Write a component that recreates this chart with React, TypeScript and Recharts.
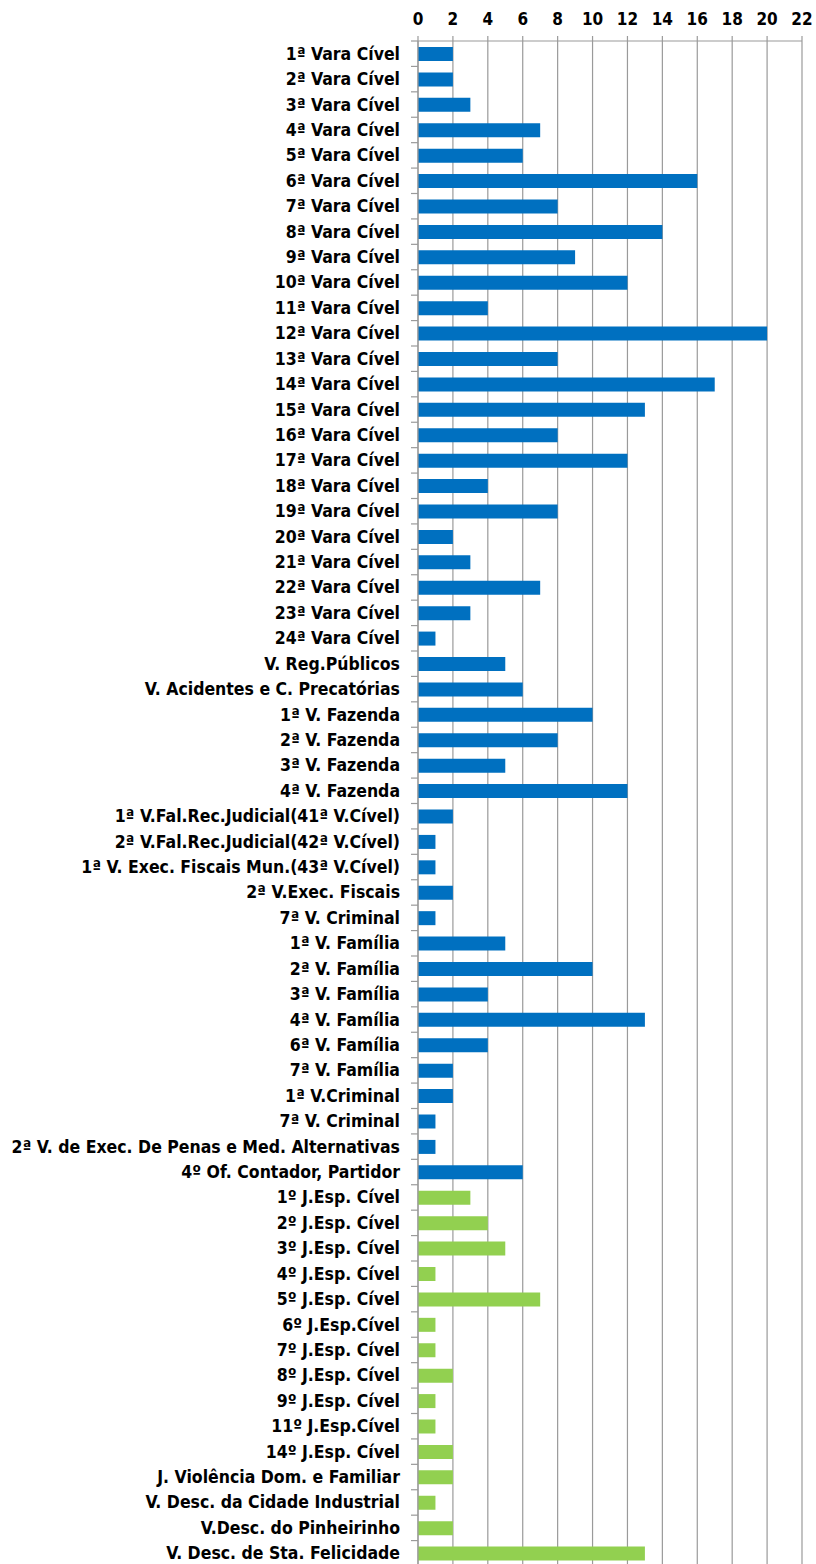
import { Bar, BarChart, CartesianGrid, Cell, XAxis, YAxis } from "recharts";

// Varas (blue group)
const varaNames = [
  "1ª Vara Cível", "2ª Vara Cível", "3ª Vara Cível", "4ª Vara Cível", "5ª Vara Cível",
  "6ª Vara Cível", "7ª Vara Cível", "8ª Vara Cível", "9ª Vara Cível", "10ª Vara Cível",
  "11ª Vara Cível", "12ª Vara Cível", "13ª Vara Cível", "14ª Vara Cível", "15ª Vara Cível",
  "16ª Vara Cível", "17ª Vara Cível", "18ª Vara Cível", "19ª Vara Cível", "20ª Vara Cível",
  "21ª Vara Cível", "22ª Vara Cível", "23ª Vara Cível", "24ª Vara Cível",
  "V. Reg.Públicos", "V. Acidentes e C. Precatórias",
  "1ª V. Fazenda", "2ª V. Fazenda", "3ª V. Fazenda", "4ª V. Fazenda",
  "1ª V.Fal.Rec.Judicial(41ª V.Cível)", "2ª V.Fal.Rec.Judicial(42ª V.Cível)",
  "1ª V. Exec. Fiscais Mun.(43ª V.Cível)", "2ª V.Exec. Fiscais", "7ª V. Criminal",
  "1ª V. Família", "2ª V. Família", "3ª V. Família", "4ª V. Família", "6ª V. Família", "7ª V. Família",
  "1ª V.Criminal", "7ª V. Criminal", "2ª V. de Exec. De Penas e Med. Alternativas",
  "4º Of. Contador, Partidor",
];
const varaValues = [
  2, 2, 3, 7, 6, 16, 8, 14, 9, 12, 4, 20, 8, 17, 13, 8, 12, 4, 8, 2, 3, 7, 3, 1,
  5, 6, 10, 8, 5, 12, 2, 1, 1, 2, 1, 5, 10, 4, 13, 4, 2, 2, 1, 1, 6,
];

// Juizados and varas descentralizadas (green group)
const juizadoNames = [
  "1º J.Esp. Cível", "2º J.Esp. Cível", "3º J.Esp. Cível", "4º J.Esp. Cível", "5º J.Esp. Cível",
  "6º J.Esp.Cível", "7º J.Esp. Cível", "8º J.Esp. Cível", "9º J.Esp. Cível", "11º J.Esp.Cível",
  "14º J.Esp. Cível", "J. Violência Dom. e Familiar", "V. Desc. da Cidade Industrial",
  "V.Desc. do Pinheirinho", "V. Desc. de Sta. Felicidade",
];
const juizadoValues = [3, 4, 5, 1, 7, 1, 1, 2, 1, 1, 2, 2, 1, 2, 13];

const xTicks = [0, 2, 4, 6, 8, 10, 12, 14, 16, 18, 20, 22];

const data = [
  ...varaNames.map((name, i) => ({ name, value: varaValues[i], group: "vara" })),
  ...juizadoNames.map((name, i) => ({ name, value: juizadoValues[i], group: "juizado" })),
];

const COLORS: Record<string, string> = { vara: "#0070C0", juizado: "#92D050" };
const FONT = "'DejaVu Sans Condensed', 'DejaVu Sans', sans-serif";
const GRID = "#9a9a9a";

const CHART_W = 816;
const CHART_H = 1568;
const TOP = 41;
const BOTTOM = 2;
const HALF_BAND = (CHART_H - TOP - BOTTOM) / data.length / 2;

function CategoryTick({ x, y, payload }: any) {
  return (
    <g>
      <line x1={x - 7} x2={x} y1={y - HALF_BAND} y2={y - HALF_BAND} stroke={GRID} strokeWidth={1.2} />
      <text x={x - 18} y={y} textAnchor="end" dominantBaseline="central" fontFamily={FONT} fontWeight="bold" fontSize={17.5} fill="#000">
        {payload.value}
      </text>
    </g>
  );
}

export default function App() {
  return (
    <div style={{ position: "absolute", left: 0, top: 0, width: CHART_W, height: 1564, overflow: "hidden", background: "#fff" }}>
      <BarChart
        width={CHART_W}
        height={CHART_H}
        data={data}
        layout="vertical"
        margin={{ top: 0, right: 14, bottom: BOTTOM, left: 0 }}
      >
        <CartesianGrid horizontal={false} stroke={GRID} strokeWidth={1.2} strokeDasharray="" />
        <XAxis
          type="number"
          orientation="top"
          domain={[0, 22]}
          ticks={xTicks}
          interval={0}
          height={TOP}
          axisLine={{ stroke: GRID, strokeWidth: 1.2 }}
          tickLine={{ stroke: GRID, strokeWidth: 1.2 }}
          tickSize={5}
          tickMargin={11}
          tick={{ fill: "#000", fontFamily: FONT, fontWeight: "bold", fontSize: 17 }}
        />
        <YAxis
          type="category"
          dataKey="name"
          width={418}
          interval={0}
          tickSize={0}
          tickMargin={0}
          tickLine={false}
          axisLine={{ stroke: GRID, strokeWidth: 1.2 }}
          tick={<CategoryTick />}
        />
        <Bar dataKey="value" barSize={14} isAnimationActive={false}>
          {data.map((d, i) => (
            <Cell key={i} fill={COLORS[d.group]} />
          ))}
        </Bar>
      </BarChart>
    </div>
  );
}
